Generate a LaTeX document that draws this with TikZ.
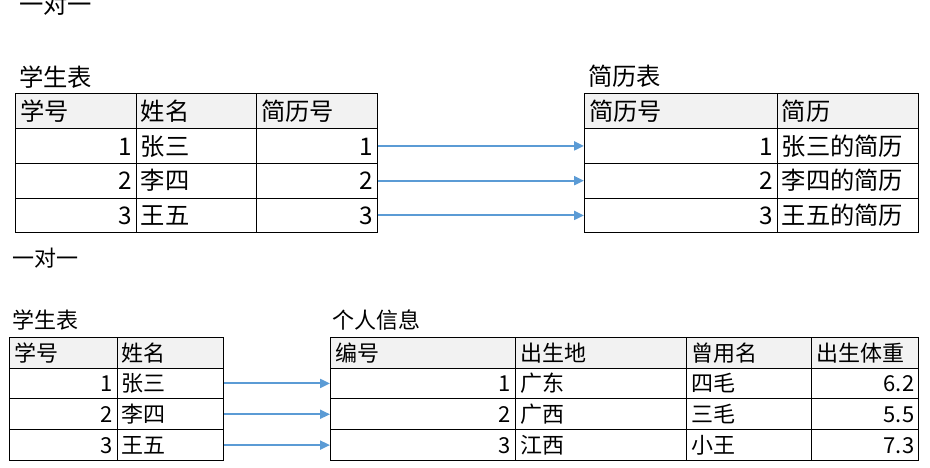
\documentclass[tikz,border=0pt]{standalone}
\usepackage{fontspec}
\setmainfont{Noto Sans CJK SC}
\usetikzlibrary{arrows.meta}
\definecolor{hdr}{HTML}{F2F2F2}
\definecolor{arrc}{HTML}{5B9BD5}
\newcommand\topfnt{\fontsize{24.3}{28}\selectfont}
\newcommand\botfnt{\fontsize{22}{26}\selectfont}
\tikzset{
 base/.style={draw=black, line width=1pt, anchor=north west, inner xsep=4.5pt, inner ysep=0pt},
 topc/.style={base, font=\topfnt, minimum height=34.75pt, text height=21.4pt, text depth=2.9pt},
 botc/.style={base, font=\botfnt, minimum height=30.825pt, text height=19.4pt, text depth=2.6pt},
 hd/.style={fill=hdr, align=left},
 lft/.style={align=left},
 rgt/.style={align=right},
 ttl/.style={anchor=base west, inner sep=0pt},
 arr/.style={draw=arrc, line width=2pt, -{Triangle[length=10pt,width=9pt]}}
}
\begin{document}
\begin{tikzpicture}[x=1pt,y=-1pt]
\useasboundingbox (0,0) rectangle (930,467);
% titles
\node[ttl, font=\topfnt] (tA) at (19,13.5) {一对一};
\node[ttl, font=\topfnt] (tB) at (19,86.5) {学生表};
\node[ttl, font=\topfnt] (tC) at (588,85.5) {简历表};
\node[ttl, font=\botfnt] (tD) at (12,266.5) {一对一};
\node[ttl, font=\botfnt] (tE) at (12,328.7) {学生表};
\node[ttl, font=\botfnt] (tF) at (332,328.5) {个人信息};
% table 1
\node[topc,hd,text width=111.7pt] (a-h1) at (15,93.3) {学号};
\node[topc,hd,text width=111.3pt] (a-h2) at (135.7,93.3) {姓名};
\node[topc,hd,text width=111.7pt] (a-h3) at (256,93.3) {简历号};
\node[topc,rgt,text width=111.7pt] (a-11) at (15,128.05) {1};
\node[topc,lft,text width=111.3pt] (a-12) at (135.7,128.05) {张三};
\node[topc,rgt,text width=111.7pt] (a-13) at (256,128.05) {1};
\node[topc,rgt,text width=111.7pt] (a-21) at (15,162.8) {2};
\node[topc,lft,text width=111.3pt] (a-22) at (135.7,162.8) {李四};
\node[topc,rgt,text width=111.7pt] (a-23) at (256,162.8) {2};
\node[topc,rgt,text width=111.7pt] (a-31) at (15,197.55) {3};
\node[topc,lft,text width=111.3pt] (a-32) at (135.7,197.55) {王五};
\node[topc,rgt,text width=111.7pt] (a-33) at (256,197.55) {3};
% table 2
\node[topc,hd,text width=183.7pt] (b-h1) at (584,93.3) {简历号};
\node[topc,hd,text width=132.6pt] (b-h2) at (776.7,93.3) {简历};
\node[topc,rgt,text width=183.7pt] (b-11) at (584,128.05) {1};
\node[topc,lft,text width=132.6pt] (b-12) at (776.7,128.05) {张三的简历};
\node[topc,rgt,text width=183.7pt] (b-21) at (584,162.8) {2};
\node[topc,lft,text width=132.6pt] (b-22) at (776.7,162.8) {李四的简历};
\node[topc,rgt,text width=183.7pt] (b-31) at (584,197.55) {3};
\node[topc,lft,text width=132.6pt] (b-32) at (776.7,197.55) {王五的简历};
% table 3
\node[botc,hd,text width=98.4pt] (c-h1) at (9.3,336.7) {学号};
\node[botc,hd,text width=97.6pt] (c-h2) at (116.7,336.7) {姓名};
\node[botc,rgt,text width=98.4pt] (c-11) at (9.3,367.525) {1};
\node[botc,lft,text width=97.6pt] (c-12) at (116.7,367.525) {张三};
\node[botc,rgt,text width=98.4pt] (c-21) at (9.3,398.35) {2};
\node[botc,lft,text width=97.6pt] (c-22) at (116.7,398.35) {李四};
\node[botc,rgt,text width=98.4pt] (c-31) at (9.3,429.175) {3};
\node[botc,lft,text width=97.6pt] (c-32) at (116.7,429.175) {王五};
% table 4
\node[botc,hd,text width=176pt] (d-h1) at (330,336.7) {编号};
\node[botc,hd,text width=162pt] (d-h2) at (515,336.7) {出生地};
\node[botc,hd,text width=116pt] (d-h3) at (686,336.7) {曾用名};
\node[botc,hd,text width=98.3pt] (d-h4) at (811,336.7) {出生体重};
\node[botc,rgt,text width=176pt] (d-11) at (330,367.525) {1};
\node[botc,lft,text width=162pt] (d-12) at (515,367.525) {广东};
\node[botc,lft,text width=116pt] (d-13) at (686,367.525) {四毛};
\node[botc,rgt,text width=98.3pt] (d-14) at (811,367.525) {6.2};
\node[botc,rgt,text width=176pt] (d-21) at (330,398.35) {2};
\node[botc,lft,text width=162pt] (d-22) at (515,398.35) {广西};
\node[botc,lft,text width=116pt] (d-23) at (686,398.35) {三毛};
\node[botc,rgt,text width=98.3pt] (d-24) at (811,398.35) {5.5};
\node[botc,rgt,text width=176pt] (d-31) at (330,429.175) {3};
\node[botc,lft,text width=162pt] (d-32) at (515,429.175) {江西};
\node[botc,lft,text width=116pt] (d-33) at (686,429.175) {小王};
\node[botc,rgt,text width=98.3pt] (d-34) at (811,429.175) {7.3};
% arrows
\draw[arr] (a-13.east) -- (b-11.west);
\draw[arr] (a-23.east) -- (b-21.west);
\draw[arr] (a-33.east) -- (b-31.west);
\draw[arr] (c-12.east) -- (d-11.west);
\draw[arr] (c-22.east) -- (d-21.west);
\draw[arr] (c-32.east) -- (d-31.west);
\end{tikzpicture}
\end{document}
